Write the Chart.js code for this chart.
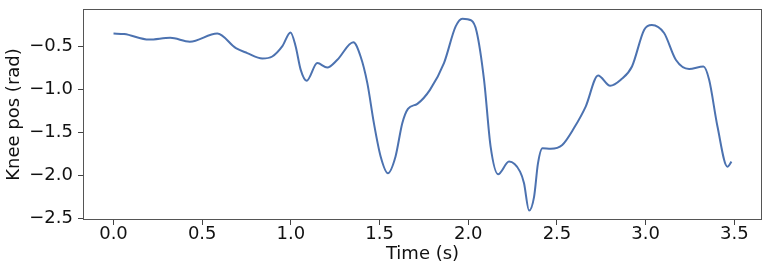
<!DOCTYPE html>
<html>
<head>
<meta charset="utf-8">
<script src="https://cdn.jsdelivr.net/npm/chart.js@4"></script>
<style>
html,body{margin:0;padding:0;background:#fff;}
#wrap{width:770px;height:273px;position:relative;}
</style>
</head>
<body>
<div id="wrap"><canvas id="c" width="770" height="273"></canvas></div>
<script>
const timeS = [0, 0.06, 0.2, 0.32, 0.43, 0.585, 0.69, 0.754, 0.839, 0.895, 0.951, 0.998, 1.027, 1.055, 1.089, 1.149, 1.205, 1.262, 1.352, 1.393, 1.431, 1.468, 1.506, 1.547, 1.59, 1.628, 1.66, 1.713, 1.784, 1.863, 1.929, 1.967, 2.017, 2.047, 2.089, 2.126, 2.168, 2.23, 2.292, 2.314, 2.343, 2.371, 2.393, 2.418, 2.465, 2.53, 2.596, 2.662, 2.732, 2.8, 2.86, 2.923, 2.992, 3.035, 3.104, 3.17, 3.245, 3.326, 3.358, 3.405, 3.461, 3.484];
const kneePos = [-0.35, -0.355, -0.42, -0.40, -0.445, -0.35, -0.52, -0.577, -0.64, -0.617, -0.5, -0.337, -0.5, -0.77, -0.90, -0.694, -0.745, -0.655, -0.452, -0.617, -0.927, -1.393, -1.78, -1.976, -1.78, -1.393, -1.226, -1.168, -1.005, -0.694, -0.267, -0.177, -0.197, -0.325, -0.888, -1.666, -1.987, -1.84, -1.957, -2.09, -2.41, -2.25, -1.86, -1.684, -1.69, -1.646, -1.45, -1.2, -0.838, -0.958, -0.888, -0.733, -0.305, -0.25, -0.344, -0.655, -0.763, -0.733, -0.888, -1.432, -1.899, -1.84];
const xTicks = [0.0, 0.5, 1.0, 1.5, 2.0, 2.5, 3.0, 3.5];
const yTicks = [-2.5, -2.0, -1.5, -1.0, -0.5];

const points = timeS.map((t, i) => ({x: t, y: kneePos[i]}));
const fmt = v => Number(v).toFixed(1).replace('-', '\u2212');
const FONT = "'DejaVu Sans', sans-serif";

const framePlugin = {
  id: 'frame',
  afterDraw(chart) {
    const a = chart.chartArea, ctx = chart.ctx;
    ctx.save();
    ctx.strokeStyle = '#555';
    ctx.lineWidth = 1;
    ctx.strokeRect(Math.round(a.left) + 0.5, Math.round(a.top) + 0.5, Math.round(a.right - a.left) - 1, Math.round(a.bottom - a.top) - 1);
    ctx.restore();
  }
};

new Chart(document.getElementById('c'), {
  type: 'line',
  data: {
    datasets: [{
      data: points,
      borderColor: '#4C72B0',
      borderWidth: 2,
      pointRadius: 0,
      fill: false,
      cubicInterpolationMode: 'monotone'
    }]
  },
  options: {
    responsive: false,
    animation: false,
    layout: {padding: {left: 0, top: 9, right: 8, bottom: 0}},
    plugins: {legend: {display: false}, tooltip: {enabled: false}},
    scales: {
      x: {
        type: 'linear',
        min: -0.172,
        max: 3.656,
        afterBuildTicks: s => { s.ticks = xTicks.map(v => ({value: v})); },
        afterFit: s => { s.height = 53; s.paddingLeft = 0; s.paddingRight = 0; },
        border: {display: false},
        grid: {drawOnChartArea: false, drawTicks: true, tickLength: 5, color: '#444'},
        ticks: {
          callback: v => fmt(v),
          font: {family: FONT, size: 18, lineHeight: 1.0},
          color: '#111',
          padding: 0,
          maxRotation: 0,
          autoSkip: false
        },
        title: {
          display: true,
          text: 'Time (s)',
          font: {family: FONT, size: 18, lineHeight: 1.2},
          color: '#111',
          padding: {top: 0, bottom: 7.5}
        }
      },
      y: {
        type: 'linear',
        min: -2.52,
        max: -0.064,
        afterBuildTicks: s => { s.ticks = yTicks.map(v => ({value: v})); },
        afterFit: s => { s.width = 83; s.paddingTop = 0; s.paddingBottom = 0; },
        border: {display: false},
        grid: {drawOnChartArea: false, drawTicks: true, tickLength: 5, color: '#444'},
        ticks: {
          callback: v => fmt(v),
          font: {family: FONT, size: 18, lineHeight: 1.0},
          color: '#111',
          padding: 5,
          autoSkip: false
        },
        title: {
          display: true,
          text: 'Knee pos (rad)',
          font: {family: FONT, size: 18, lineHeight: 1.2},
          color: '#111',
          padding: {top: 4, bottom: 0}
        }
      }
    }
  },
  plugins: [framePlugin]
});
</script>
</body>
</html>
